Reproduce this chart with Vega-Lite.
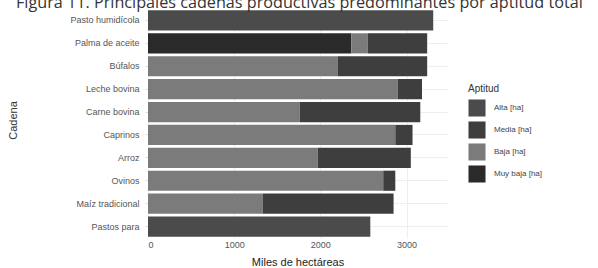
{
  "$schema": "https://vega.github.io/schema/vega-lite/v6.json",
  "width": 299,
  "height": 229,
  "autosize": {"type": "none"},
  "padding": {"left": 148, "top": 9, "right": 151, "bottom": 30},
  "background": "white",
  "title": {
    "text": "Figura 11. Principales cadenas productivas predominantes por aptitud total",
    "anchor": "start",
    "frame": "group",
    "dx": -132,
    "offset": -2,
    "fontSize": 16.2,
    "font": "Open Sans",
    "fontWeight": "normal",
    "color": "#333333"
  },
  "data": {
    "values": [
      {"cadena": "Pasto humidícola", "aptitud": "Alta [ha]", "valor": 3310},
      {"cadena": "Palma de aceite", "aptitud": "Muy baja [ha]", "valor": 2360},
      {"cadena": "Palma de aceite", "aptitud": "Baja [ha]", "valor": 190},
      {"cadena": "Palma de aceite", "aptitud": "Media [ha]", "valor": 690},
      {"cadena": "Búfalos", "aptitud": "Baja [ha]", "valor": 2200},
      {"cadena": "Búfalos", "aptitud": "Media [ha]", "valor": 1040},
      {"cadena": "Leche bovina", "aptitud": "Baja [ha]", "valor": 2900},
      {"cadena": "Leche bovina", "aptitud": "Media [ha]", "valor": 280},
      {"cadena": "Carne bovina", "aptitud": "Baja [ha]", "valor": 1760},
      {"cadena": "Carne bovina", "aptitud": "Media [ha]", "valor": 1400},
      {"cadena": "Caprinos", "aptitud": "Baja [ha]", "valor": 2870},
      {"cadena": "Caprinos", "aptitud": "Media [ha]", "valor": 200},
      {"cadena": "Arroz", "aptitud": "Baja [ha]", "valor": 1970},
      {"cadena": "Arroz", "aptitud": "Media [ha]", "valor": 1080},
      {"cadena": "Ovinos", "aptitud": "Baja [ha]", "valor": 2730},
      {"cadena": "Ovinos", "aptitud": "Media [ha]", "valor": 140},
      {"cadena": "Maíz tradicional", "aptitud": "Baja [ha]", "valor": 1330},
      {"cadena": "Maíz tradicional", "aptitud": "Media [ha]", "valor": 1520},
      {"cadena": "Pastos para", "aptitud": "Alta [ha]", "valor": 2580}
    ]
  },
  "transform": [
    {"calculate": "indexof(['Muy baja [ha]','Baja [ha]','Media [ha]','Alta [ha]'], datum.aptitud)", "as": "orden"}
  ],
  "mark": {"type": "bar"},
  "encoding": {
    "y": {
      "field": "cadena",
      "type": "nominal",
      "sort": ["Pasto humidícola", "Palma de aceite", "Búfalos", "Leche bovina", "Carne bovina", "Caprinos", "Arroz", "Ovinos", "Maíz tradicional", "Pastos para"],
      "scale": {"paddingInner": 0.12, "paddingOuter": 0.06},
      "axis": {
        "title": "Cadena",
        "titleFont": "Liberation Sans",
        "titleFontSize": 11,
        "titleFontWeight": "normal",
        "titleColor": "#333333",
        "titleX": -135,
        "titleY": 111,
        "titleBaseline": "middle",
        "titleAngle": -90,
        "labelFont": "Liberation Sans",
        "labelFontSize": 9,
        "labelColor": "#555555",
        "labelPadding": 6,
        "tickSize": 3,
        "tickColor": "#dddddd",
        "domain": false,
        "grid": true,
        "gridColor": "#eeeeee",
        "bandPosition": 0.5
      }
    },
    "x": {
      "field": "valor",
      "type": "quantitative",
      "stack": "zero",
      "scale": {"domain": [0, 3470], "nice": false},
      "axis": {
        "title": "Miles de hectáreas",
        "titleFont": "Liberation Sans",
        "titleFontSize": 11,
        "titleFontWeight": "normal",
        "titleColor": "#222222",
        "titleY": 24,
        "titleBaseline": "middle",
        "values": [0, 1000, 2000, 3000],
        "format": "d",
        "labelFont": "Liberation Sans",
        "labelFontSize": 9,
        "labelColor": "#555555",
        "labelPadding": 2,
        "ticks": false,
        "domain": false,
        "grid": true,
        "gridColor": "#eeeeee"
      }
    },
    "color": {
      "field": "aptitud",
      "type": "nominal",
      "scale": {
        "domain": ["Alta [ha]", "Media [ha]", "Baja [ha]", "Muy baja [ha]"],
        "range": ["#4b4b4b", "#3e3e3e", "#7b7b7b", "#2a2a2a"]
      },
      "legend": {
        "title": "Aptitud",
        "orient": "none",
        "legendX": 320,
        "legendY": 75,
        "titleFont": "Liberation Sans",
        "titleFontSize": 10,
        "titleFontWeight": "normal",
        "titleColor": "#333333",
        "labelFont": "Liberation Sans",
        "labelFontSize": 8,
        "labelColor": "#444444",
        "symbolType": "square",
        "symbolSize": 290,
        "symbolStrokeWidth": 0,
        "rowPadding": 4,
        "labelOffset": 8
      }
    },
    "order": {"field": "orden", "type": "quantitative"}
  },
  "config": {"view": {"stroke": null}}
}
